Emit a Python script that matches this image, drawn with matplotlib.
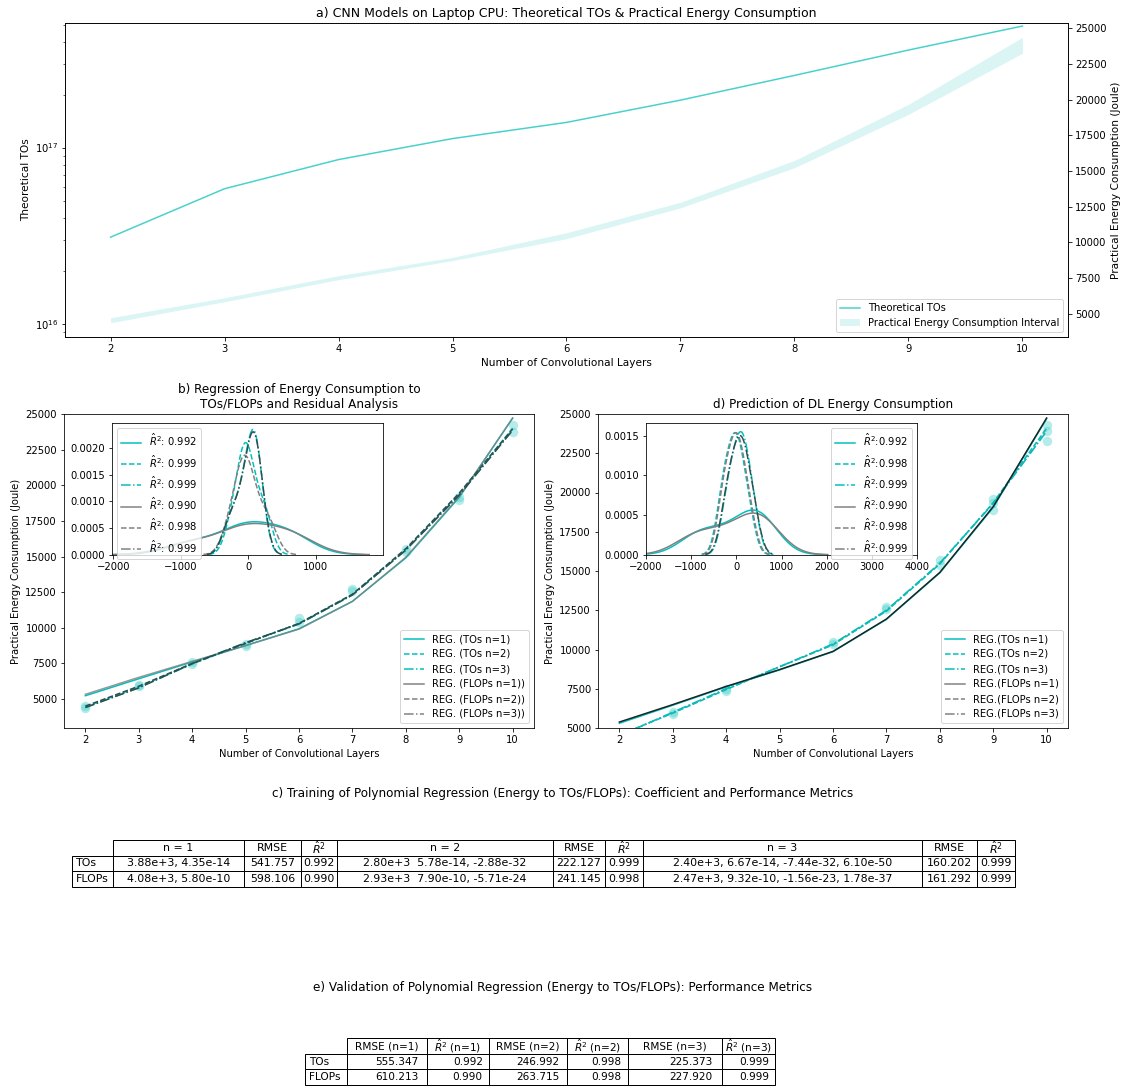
import matplotlib
matplotlib.use('Agg')
import matplotlib.pyplot as plt
import seaborn as sns
from matplotlib.lines import Line2D
from matplotlib.patches import Patch
from matplotlib.table import Table

# ---- data ----
layers = [2, 3, 4, 5, 6, 7, 8, 9, 10]
tos = [3.1e16, 5.84e16, 8.55e16, 1.125e17, 1.39e17, 1.86e17, 2.57e17, 3.58e17, 4.9e17]
energy_low = [4370, 5840, 7390, 8720, 10260, 12420, 15230, 18970, 23250]
energy_high = [4720, 6120, 7670, 8950, 10680, 12810, 15740, 19670, 24370]

# measured energy (training runs) for panel b
train_x = [2, 2, 3, 3, 4, 4, 5, 5, 6, 6, 7, 7, 8, 8, 9, 9, 10, 10]
train_e = [4400, 4500, 5900, 6000, 7450, 7600, 8750, 8850, 10400, 10650,
           12550, 12750, 15300, 15500, 19000, 19150, 23750, 24200]
# regression curves, panel b
b_tos1 = [5230, 6420, 7600, 8750, 9930, 11850, 14900, 19150, 24720]
b_tos2 = [4450, 5850, 7450, 8900, 10300, 12350, 15500, 19400, 24000]
b_tos3 = [4400, 5800, 7500, 8950, 10250, 12300, 15450, 19350, 23900]
b_flops1 = [5330, 6520, 7640, 8750, 9900, 11850, 14950, 19200, 24700]
b_flops2 = [4500, 5900, 7500, 8900, 10300, 12350, 15550, 19450, 23950]
b_flops3 = [4400, 5780, 7480, 8950, 10280, 12300, 15450, 19300, 23850]

# validation points for panel d
val_x = [3, 3, 4, 4, 6, 6, 7, 7, 8, 8, 9, 9, 9, 10, 10, 10]
val_e = [5900, 6000, 7350, 7500, 10350, 10500, 12550, 12700, 15400, 15700,
         18900, 19300, 19600, 23300, 23900, 24300]
# predictions, panel d
d_tos1 = [5300, 6450, 7620, 8700, 9860, 11920, 14880, 19050, 24700]
d_tos2 = [4550, 5950, 7450, 8900, 10300, 12450, 15450, 19350, 24100]
d_tos3 = [4500, 6000, 7500, 8900, 10350, 12500, 15500, 19300, 23900]
d_flops1 = [5380, 6490, 7650, 8720, 9880, 11940, 14910, 19100, 24745]
d_flops2 = [4550, 5950, 7450, 8900, 10300, 12450, 15450, 19350, 24050]
d_flops3 = [4500, 6000, 7500, 8900, 10350, 12500, 15500, 19300, 23900]

# residuals (for the density insets)
train_res = {
    'tos1': [-950, -650, -150, -80, 0, 80, 500, 650, 600],
    'tos2': [-260, -150, -90, -50, -20, 10, 80, 200, 280],
    'tos3': [-300, -170, -80, 0, 40, 80, 130, 195, 105],
    'flops1': [-1000, -680, -160, -90, 0, 90, 520, 680, 650],
    'flops2': [-290, -170, -100, -60, -30, 0, 90, 220, 340],
    'flops3': [-305, -175, -80, 0, 40, 80, 130, 200, 110],
}
val_res = {
    'tos1': [-1000, -700, -350, 50, 300, 450, 550, 680],
    'tos2': [-350, -250, -150, -60, 0, 60, 150, 300],
    'tos3': [-250, -130, -30, 50, 120, 180, 260, 400],
    'flops1': [-1080, -750, -380, 30, 300, 470, 580, 720],
    'flops2': [-330, -230, -130, -40, 20, 80, 170, 320],
    'flops3': [-260, -140, -40, 40, 110, 180, 260, 410],
}
train_r2 = ['0.992', '0.999', '0.999', '0.990', '0.998', '0.999']
val_r2 = ['0.992', '0.998', '0.999', '0.990', '0.998', '0.999']

# tables
c_cols = ['n = 1', 'RMSE', '$\\hat{R}^2$', 'n = 2', 'RMSE', '$\\hat{R}^2$',
          'n = 3', 'RMSE', '$\\hat{R}^2$']
c_rows = ['TOs', 'FLOPs']
c_cells = [
    ['3.88e+3, 4.35e-14', '541.757', '0.992', '2.80e+3  5.78e-14, -2.88e-32',
     '222.127', '0.999', '2.40e+3, 6.67e-14, -7.44e-32, 6.10e-50', '160.202', '0.999'],
    ['4.08e+3, 5.80e-10', '598.106', '0.990', '2.93e+3  7.90e-10, -5.71e-24',
     '241.145', '0.998', '2.47e+3, 9.32e-10, -1.56e-23, 1.78e-37', '161.292', '0.999'],
]
e_cols = ['RMSE (n=1)', '$\\hat{R}^2$ (n=1)', 'RMSE (n=2)', '$\\hat{R}^2$ (n=2)',
          'RMSE (n=3)', '$\\hat{R}^2$ (n=3)']
e_rows = ['TOs', 'FLOPs']
e_cells = [
    ['555.347', '0.992', '246.992', '0.998', '225.373', '0.999'],
    ['610.213', '0.990', '263.715', '0.998', '227.920', '0.999'],
]

W, H = 1126, 1088


def box(l, t, r, b):
    return [l / W, 1 - b / H, (r - l) / W, (b - t) / H]


def draw_table(ax, cols, rows, cells, widths, cell_loc, fs):
    tb = Table(ax, bbox=[0, 0, 1, 1])
    h = 1.0 / (len(rows) + 1)
    total = sum(widths)
    for j, lab in enumerate(cols):
        tb.add_cell(0, j + 1, widths[j + 1] / total, h, text=lab, loc='center')
    for i, rl in enumerate(rows):
        tb.add_cell(i + 1, 0, widths[0] / total, h, text=rl, loc='left')
        for j, v in enumerate(cells[i]):
            tb.add_cell(i + 1, j + 1, widths[j + 1] / total, h, text=v, loc=cell_loc)
    tb.auto_set_font_size(False)
    tb.set_fontsize(fs)
    ax.add_table(tb)


fig = plt.figure(figsize=(W / 72, H / 72), dpi=72)

# ---- a) ----
turq = '#48d1cc'
ax_a = fig.add_axes(box(65, 23, 1068, 337))
ax_a.plot(layers, tos, color=turq, lw=1.5)
ax_a.set_yscale('log')
ax_a.set_ylim(8.4e15, 5.1e17)
ax_a.set_xticks(layers)
ax_a.set_ylabel('Theoretical TOs', fontsize=10.5)
ax_a.set_xlabel('Number of Convolutional Layers', fontsize=10.5)
ax_a.set_title('a) CNN Models on Laptop CPU: Theoretical TOs & Practical Energy Consumption',
               fontsize=12.5)
ax_a2 = ax_a.twinx()
ax_a2.fill_between(layers, energy_low, energy_high, color=turq, alpha=0.2, lw=0)
ax_a2.set_ylabel('Practical Energy Consumption (Joule)', fontsize=10.5)
ax_a2.legend(handles=[Line2D([], [], color=turq, lw=1.5),
                      Patch(color=turq, alpha=0.2, lw=0)],
             labels=['Theoretical TOs', 'Practical Energy Consumption Interval'],
             loc='lower right')

styles = [('c', '-'), ('c', '--'), ('c', '-.'), ('gray', '-'), ('gray', '--'), ('gray', '-.')]
keys = ['tos1', 'tos2', 'tos3', 'flops1', 'flops2', 'flops3']
handles = [Line2D([], [], color=c, ls=ls, lw=1.5) for c, ls in styles]

# ---- b) ----
ax_b = fig.add_axes(box(64, 414, 534, 728))
ax_b.scatter(train_x, train_e, s=90, color=turq, alpha=0.4, lw=0)
ax_b.plot(layers, b_tos1, color='c', ls='-', lw=1.5)
ax_b.plot(layers, b_tos2, color='c', ls='--', lw=1.5)
ax_b.plot(layers, b_tos3, color='c', ls='-.', lw=1.5)
ax_b.plot(layers, b_flops1, color='gray', ls='-', lw=1.5, alpha=0.8)
ax_b.plot(layers, b_flops2, color='darkslategray', ls='--', lw=1.5)
ax_b.plot(layers, b_flops3, color='darkslategray', ls='-.', lw=1.5)
ax_b.set_xticks(layers)
ax_b.set_ylim(2965, 25000)
ax_b.set_yticks(range(5000, 25001, 2500))
ax_b.set_xlabel('Number of Convolutional Layers')
ax_b.set_ylabel('Practical Energy Consumption (Joule)')
ax_b.set_title('b) Regression of Energy Consumption to\nTOs/FLOPs and Residual Analysis')
ax_b.legend(handles=handles,
            labels=['REG. (TOs n=1)', 'REG. (TOs n=2)', 'REG. (TOs n=3)',
                    'REG. (FLOPs n=1))', 'REG. (FLOPs n=2))', 'REG. (FLOPs n=3))'],
            loc='lower right')

in_b = ax_b.inset_axes([0.102, 0.552, 0.577, 0.419])
for k, (c, ls) in zip(keys, styles):
    cc = 'darkslategray' if k == 'flops3' else c
    sns.kdeplot(x=train_res[k], ax=in_b, color=cc, ls=ls, lw=1.5)
in_b.set_xlim(-2020, 2000)
in_b.set_ylim(0, 0.00247)
in_b.set_yticks([0, 0.0005, 0.001, 0.0015, 0.002])
in_b.set_xticks([-2000, -1000, 0, 1000])
in_b.set_ylabel('')
in_b.legend(handles=handles, labels=['$\\hat{R}^2$: ' + r for r in train_r2], loc='upper left')

# ---- d) ----
ax_d = fig.add_axes(box(598, 414, 1068, 728))
ax_d.scatter(val_x, val_e, s=90, color=turq, alpha=0.4, lw=0)
ax_d.plot(layers, d_tos1, color='c', ls='-', lw=1.5)
ax_d.plot(layers, d_flops2, color='gray', ls='--', lw=1.5, alpha=0.5)
ax_d.plot(layers, d_flops3, color='gray', ls='-.', lw=1.5, alpha=0.5)
ax_d.plot(layers, d_tos2, color='c', ls='--', lw=1.5)
ax_d.plot(layers, d_tos3, color='c', ls='-.', lw=1.5)
ax_d.plot(layers, d_flops1, color='#1c2424', ls='-', lw=1.5)
ax_d.set_xticks(layers)
ax_d.set_ylim(5000, 25000)
ax_d.set_yticks(range(5000, 25001, 2500))
ax_d.set_xlabel('Number of Convolutional Layers')
ax_d.set_ylabel('Practical Energy Consumption (Joule)')
ax_d.set_title('d) Prediction of DL Energy Consumption')
ax_d.legend(handles=handles,
            labels=['REG.(TOs n=1)', 'REG.(TOs n=2)', 'REG.(TOs n=3)',
                    'REG.(FLOPs n=1)', 'REG.(FLOPs n=2)', 'REG.(FLOPs n=3)'],
            loc='lower right')

in_d = ax_d.inset_axes([0.102, 0.552, 0.577, 0.419])
for k, (c, ls) in zip(keys, styles):
    cc = 'darkslategray' if k == 'flops3' else c
    sns.kdeplot(x=val_res[k], ax=in_d, color=cc, ls=ls, lw=1.5)
in_d.set_xlim(-2000, 4000)
in_d.set_ylim(0, 0.00166)
in_d.set_yticks([0, 0.0005, 0.001, 0.0015])
in_d.set_ylabel('')
in_d.legend(handles=handles, labels=['$\\hat{R}^2$:' + r for r in val_r2], loc='upper right')

# ---- c) and e) tables ----
fig.text(0.5, 1 - 793 / H,
         'c) Training of Polynomial Regression (Energy to TOs/FLOPs): Coefficient and Performance Metrics',
         ha='center', va='center', fontsize=12)
tab_c = fig.add_axes(box(71.7, 840, 1015, 886.7))
tab_c.axis('off')
draw_table(tab_c, c_cols, c_rows, c_cells,
           [41, 131.3, 56.7, 36, 216.3, 52, 38.3, 278.4, 55.3, 38], 'center', 11)

fig.text(0.5, 1 - 988 / H,
         'e) Validation of Polynomial Regression (Energy to TOs/FLOPs): Performance Metrics',
         ha='center', va='center', fontsize=12)
tab_e = fig.add_axes(box(305, 1038.3, 775, 1085))
tab_e.axis('off')
draw_table(tab_e, e_cols, e_rows, e_cells,
           [41.7, 80, 62.3, 78.3, 60.4, 94.6, 52.7], 'right', 10.5)

fig.savefig('out.png', dpi=72)
